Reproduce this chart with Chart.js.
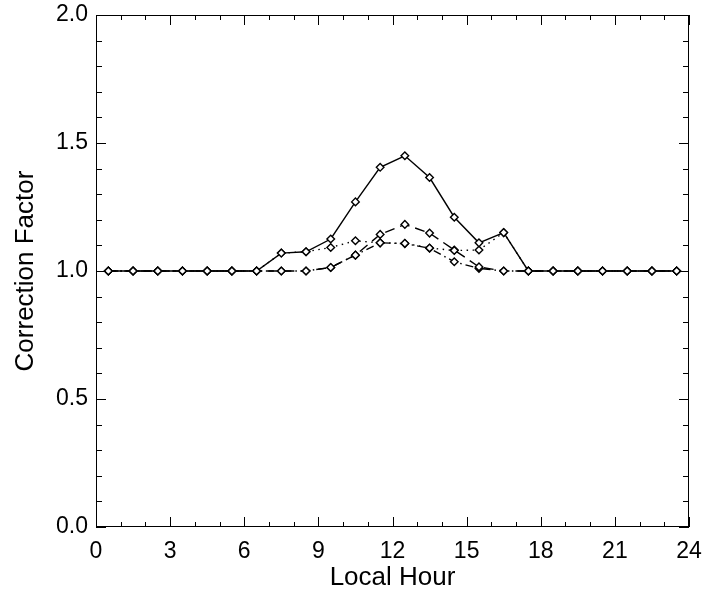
<!DOCTYPE html>
<html>
<head>
<meta charset="utf-8">
<script src="https://cdn.jsdelivr.net/npm/chart.js@4"></script>
<style>
  html, body { margin: 0; padding: 0; background: #fff; }
  #wrap { width: 708px; height: 593px; }
</style>
</head>
<body>
<div id="wrap"><canvas id="corrChart"></canvas></div>
<script>
// hours at the middle of each bin
const hours = [0.5, 1.5, 2.5, 3.5, 4.5, 5.5, 6.5, 7.5, 8.5, 9.5, 10.5, 11.5,
               12.5, 13.5, 14.5, 15.5, 16.5, 17.5, 18.5, 19.5, 20.5, 21.5, 22.5, 23.5];

const solidVals   = [1, 1, 1, 1, 1, 1, 1, 1.07, 1.075, 1.125, 1.27, 1.405,
                     1.45, 1.365, 1.21, 1.11, 1.15, 1, 1, 1, 1, 1, 1, 1];
const dottedVals  = [1, 1, 1, 1, 1, 1, 1, 1.07, 1.075, 1.092, 1.118, 1.11,
                     1.108, 1.09, 1.08, 1.082, 1.15, 1, 1, 1, 1, 1, 1, 1];
const dashedVals  = [1, 1, 1, 1, 1, 1, 1, 1, 1, 1.014, 1.062, 1.143,
                     1.182, 1.148, 1.082, 1.016, 1, 1, 1, 1, 1, 1, 1, 1];
const dashDotVals = [1, 1, 1, 1, 1, 1, 1, 1, 1, 1.014, 1.062, 1.11,
                     1.107, 1.089, 1.036, 1.01, 1, 1, 1, 1, 1, 1, 1, 1];

const xTickLabels = [0, 3, 6, 9, 12, 15, 18, 21, 24];
const yTickLabels = ['0.0', '0.5', '1.0', '1.5', '2.0'];

const FONT = 'Liberation Sans, Arial, Helvetica, sans-serif';

function toPoints(vals) {
    return hours.map((h, i) => ({ x: h, y: vals[i] }));
}

function series(vals, dash) {
    return {
        data: toPoints(vals),
        borderColor: '#000',
        borderWidth: 1.4,
        borderDash: dash,
        pointStyle: 'rectRot',
        pointRadius: 3.8,
        pointBorderWidth: 1.4,
        pointBackgroundColor: '#fff',
        pointBorderColor: '#000',
        fill: false,
        tension: 0
    };
}

// box around the plot and inward tick marks on all four sides
const frameTicks = {
    id: 'frameTicks',
    afterDatasetsDraw(chart) {
        const ctx = chart.ctx;
        const a = chart.chartArea;
        const xs = chart.scales.x;
        const ys = chart.scales.y;
        ctx.save();
        ctx.strokeStyle = '#000';
        ctx.lineWidth = 1;
        ctx.strokeRect(a.left + 0.5, a.top + 0.5, a.right - a.left - 1, a.bottom - a.top - 1);
        ctx.beginPath();
        for (let h = 0; h <= 24; h++) {
            const px = Math.round(xs.getPixelForValue(h)) + 0.5;
            const len = xTickLabels.includes(h) ? 10 : 5;
            ctx.moveTo(px, a.bottom); ctx.lineTo(px, a.bottom - len);
            ctx.moveTo(px, a.top); ctx.lineTo(px, a.top + len);
        }
        for (let k = 0; k <= 20; k++) {
            const py = Math.round(ys.getPixelForValue(k / 10)) + 0.5;
            const len = k % 5 === 0 ? 10 : 6;
            ctx.moveTo(a.left, py); ctx.lineTo(a.left + len, py);
            ctx.moveTo(a.right, py); ctx.lineTo(a.right - len, py);
        }
        ctx.stroke();
        ctx.restore();
    }
};

new Chart(document.getElementById('corrChart').getContext('2d'), {
    type: 'line',
    data: {
        datasets: [
            series(solidVals, []),
            series(dottedVals, [1.5, 4.5]),
            series(dashedVals, [10, 6]),
            series(dashDotVals, [8, 4, 1.5, 4])
        ]
    },
    options: {
        responsive: true,
        maintainAspectRatio: false,
        animation: false,
        layout: { padding: { top: 15, right: 19, left: 0, bottom: 0 } },
        plugins: { legend: { display: false }, tooltip: { enabled: false } },
        scales: {
            x: {
                type: 'linear',
                min: 0,
                max: 24,
                afterFit(scale) {
                    scale.height = 66;
                    scale.paddingLeft = 0;
                    scale.paddingRight = 0;
                },
                afterBuildTicks(scale) {
                    scale.ticks = xTickLabels.map(v => ({ value: v }));
                },
                grid: { display: false, drawTicks: false },
                border: { display: false },
                ticks: {
                    padding: 11,
                    color: '#000',
                    maxRotation: 0,
                    font: { family: FONT, size: 23 },
                    callback: v => String(v)
                },
                title: {
                    display: true,
                    text: 'Local Hour',
                    color: '#000',
                    font: { family: FONT, size: 26 },
                    padding: { top: 0, bottom: 0 }
                }
            },
            y: {
                min: 0,
                max: 2,
                afterFit(scale) {
                    scale.width = 96;
                    scale.paddingTop = 0;
                    scale.paddingBottom = 0;
                },
                afterBuildTicks(scale) {
                    scale.ticks = yTickLabels.map(t => ({ value: parseFloat(t) }));
                },
                grid: { display: false, drawTicks: false },
                border: { display: false },
                ticks: {
                    padding: 8,
                    color: '#000',
                    font: { family: FONT, size: 23 },
                    callback: v => Number(v).toFixed(1)
                },
                title: {
                    display: true,
                    text: 'Correction Factor',
                    color: '#000',
                    font: { family: FONT, size: 26 },
                    padding: { top: 10, bottom: 0 }
                }
            }
        }
    },
    plugins: [frameTicks]
});
</script>
</body>
</html>
